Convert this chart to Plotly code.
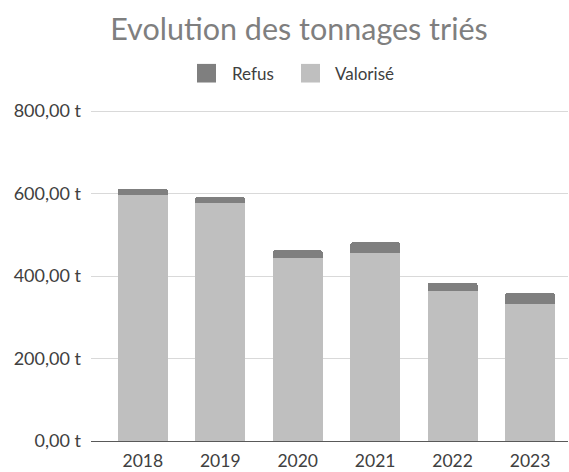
import plotly.graph_objects as go

# ---- data ----
years = ["2018", "2019", "2020", "2021", "2022", "2023"]
valorise = [597, 577, 443, 457, 364, 333]
refus = [15, 15, 20, 25, 20, 27]
y_tickvals = [0, 200, 400, 600, 800]
y_ticktext = ["0,00 t", "200,00 t", "400,00 t", "600,00 t", "800,00 t"]
legend_names = ["Refus", "Valorisé"]
colors = {"Refus": "#7f7f7f", "Valorisé": "#bfbfbf"}

W, H = 569, 472
L, R, T, B = 91, 1, 107, 24
PW, PH = W - L - R, H - T - B
FONT = "Lato"


def px_x(px):
    return (px - L) / PW


def px_y(py):
    return (H - B - py) / PH


fig = go.Figure()
fig.add_bar(x=years, y=valorise, name="Valorisé",
            marker=dict(color=colors["Valorisé"], line=dict(width=0)))
fig.add_bar(x=years, y=refus, name="Refus",
            marker=dict(color=colors["Refus"], line=dict(width=0)))

# manual legend (larger swatches like the original)
shapes = []
annotations = []
sw_x = [197, 301]
txt_x = [230, 333]
for name, sx, tx in zip(legend_names, sw_x, txt_x):
    shapes.append(dict(type="rect", xref="paper", yref="paper",
                       x0=px_x(sx), x1=px_x(sx + 19), y0=px_y(82), y1=px_y(63),
                       fillcolor=colors[name], line=dict(width=0)))
    annotations.append(dict(text=name, xref="paper", yref="paper",
                            x=px_x(tx), y=px_y(72.5), xanchor="left", yanchor="middle",
                            showarrow=False, font=dict(family=FONT, size=17, color="#404040")))

fig.update_layout(
    width=W, height=H,
    margin=dict(l=L, r=R, t=T, b=B, pad=0),
    paper_bgcolor="white", plot_bgcolor="white",
    barmode="stack", bargap=0.354, barcornerradius=3,
    showlegend=False,
    title=dict(text="Evolution des tonnages triés", x=299 / W, xanchor="center",
               xref="container", y=1 - 29 / H, yanchor="middle", yref="container",
               font=dict(family=FONT, size=30.5, color="#7f7f7f")),
    shapes=shapes, annotations=annotations,
    font=dict(family=FONT, size=17.5, color="#404040"),
)
fig.update_xaxes(type="category", range=[-0.669, 5.49], showgrid=False,
                 showline=True, linecolor="#595959", linewidth=1,
                 ticks="", tickfont=dict(family=FONT, size=17.5, color="#404040"),
                 ticklabelstandoff=4, fixedrange=True)
fig.update_yaxes(range=[0, 810], tickvals=y_tickvals, ticktext=y_ticktext,
                 showgrid=True, gridcolor="#d9d9d9", gridwidth=1,
                 zeroline=False, showline=False, ticks="",
                 tickfont=dict(family=FONT, size=18, color="#404040"),
                 ticklabelstandoff=9, fixedrange=True)

fig.write_html("out.html", config={"displayModeBar": False},
               post_script="document.body.style.margin='0px';")
